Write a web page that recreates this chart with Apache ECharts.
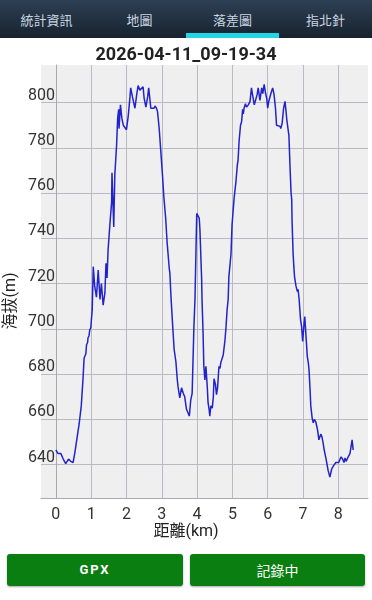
<!DOCTYPE html>
<html>
<head>
<meta charset="utf-8">
<script src="https://cdn.jsdelivr.net/npm/echarts@6/dist/echarts.min.js"></script>
<style>
html,body{margin:0;padding:0;background:#fff;width:372px;height:600px;overflow:hidden;font-family:Roboto,"Noto Sans CJK TC",sans-serif;}
#bar{position:absolute;left:0;top:0;width:372px;height:38px;background:linear-gradient(#2e4054,#17222e);}
.tab{position:absolute;top:0;width:93px;height:38px;line-height:40px;text-align:center;color:#c9d5e0;font-size:13px;font-family:"Noto Sans CJK TC",sans-serif;}
#ind{position:absolute;left:186px;top:33px;width:93px;height:5px;background:#22d6e6;}
#chart{position:absolute;left:0;top:38px;width:372px;height:510px;}
.btn{position:absolute;top:554px;height:32px;background:#0b7e12;border-radius:3px;color:#fff;text-align:center;line-height:32px;box-shadow:0 1px 2px rgba(0,0,0,0.35);}
</style>
</head>
<body>
<div id="bar">
  <div class="tab" style="left:0">統計資訊</div>
  <div class="tab" style="left:93px">地圖</div>
  <div class="tab" style="left:186px">落差圖</div>
  <div class="tab" style="left:279px">指北針</div>
  <div id="ind"></div>
</div>
<div id="chart"></div>
<div class="btn" style="left:7px;width:176px;font-weight:bold;font-size:13px;letter-spacing:2px;font-family:Roboto,sans-serif;">GPX</div>
<div class="btn" style="left:190px;width:175px;font-size:14px;font-family:'Noto Sans CJK TC',sans-serif;">記錄中</div>
<script>
const chartTitle = "2026-04-11_09-19-34";
const xName = "距離(km)";
const yName = "海拔(m)";
const xTicks = [0, 1, 2, 3, 4, 5, 6, 7, 8];
const yTicks = [640, 660, 680, 700, 720, 740, 760, 780, 800];
const distanceKm = [0.00,0.06,0.14,0.21,0.28,0.36,0.42,0.49,0.54,0.59,0.66,0.72,0.77,0.80,0.85,0.87,0.90,0.91,0.94,0.96,0.99,1.03,1.06,1.10,1.15,1.20,1.25,1.29,1.34,1.39,1.42,1.45,1.48,
1.53,1.58,1.59,1.64,1.67,1.72,1.75,1.78,1.79,1.83,1.87,1.91,1.95,2.00,2.05,2.10,2.12,2.17,2.24,2.29,2.33,2.38,2.43,2.47,2.50,2.55,2.60,2.63,2.69,2.74,2.78,2.81,2.85,2.88,2.93,2.97,3.02,3.06,3.11,3.15,3.21,
3.23,3.26,3.31,3.35,3.40,3.44,3.46,3.51,3.56,3.61,3.65,3.70,3.78,3.82,3.86,3.91,3.94,3.99,4.03,4.06,4.08,4.13,4.14,4.17,4.19,4.22,4.25,4.29,4.31,4.34,4.36,4.39,4.43,4.46,4.48,4.52,4.55,4.58,4.62,4.65,4.67,4.71,4.74,4.79,4.82,4.85,4.88,4.90,4.96,4.99,
5.05,5.10,5.14,5.16,5.19,5.23,5.26,5.29,5.31,5.33,5.37,5.40,5.45,5.50,5.54,5.57,5.62,5.67,5.70,5.73,5.78,5.83,5.86,5.90,5.94,5.97,6.00,6.03,6.09,6.14,6.18,6.22,6.25,6.30,6.35,6.37,6.41,6.45,6.49,6.52,6.54,6.56,6.60,6.63,6.66,6.68,6.69,6.72,6.74,6.76,6.80,6.84,6.86,6.89,6.93,6.96,6.99,
7.03,7.05,7.08,7.12,7.15,7.17,7.20,7.22,7.26,7.29,7.32,7.36,7.39,7.41,7.45,7.48,7.51,7.54,7.57,7.60,7.64,7.67,7.71,7.76,7.81,7.86,7.88,7.93,7.97,8.01,8.05,8.08,8.12,8.16,8.19,8.22,8.25,8.28,8.33,8.36,8.39,8.42];
const elevationM = [646.5,645,645,642.5,640.5,642.5,641.5,641,645.5,646,658,666,678,687,689,693,694,696,697,699.5,700.5,708.5,727.5,719,714,726,713,720,710.5,716,729,722.5,735,
746,756,769,745,768,781,793,797,788.5,799,793,790,789.5,788,794,802.5,806.5,802.5,797.5,803.5,807.5,805.5,805,807,802,798,802.5,806.5,797.5,798,797.5,798.5,797.5,796,788,779,768,758,749,738.5,727,
724.5,714.5,701,691,685.5,677.5,674.5,669.5,674,671.5,670,664.5,661.5,668.5,671.5,701,713,751,750.5,749,744,721.5,713,698,684,677.5,683.5,674,667.5,664.5,661.5,666,665,670,678,675.5,671,674,683.5,682.5,685,685,688.5,695,701,708.5,713,723,733,746,
758,765,772.5,774.5,783,790,791.5,797,795,797.5,799.5,798,799,800.5,806.5,803.5,799,799,803.5,806.5,801,806.5,804,808,804,802,797.5,800.5,804,806.5,803.5,797.5,790,789.5,789.5,788.5,791,797.5,800.5,796,792.5,793,785.5,772.5,760.5,757,747.5,733,727.5,723,719,716.5,717.5,713,704,701,694.5,
702.5,705.5,698,688,685,682,673,666,660.5,658.5,660,659,659.5,655.5,651,652.5,653.5,652,649.5,646.5,643.5,641,637.5,634.5,638,639.5,639,641,641.5,641,642.5,643.5,642.5,641,643,641.5,641,643.5,645,645.5,651,646.5];

const seriesData = distanceKm.map((d, i) => [d, elevationM[i]]);

const chart = echarts.init(document.getElementById('chart'), null, {renderer: 'canvas'});
const gridColor = '#b9b9c4';
chart.setOption({
  animation: false,
  title: {
    text: chartTitle, left: 'center', top: 3,
    textStyle: {fontSize: 18, fontWeight: 'bold', color: '#222', fontFamily: 'Roboto'}
  },
  grid: {left: 41, top: 27, right: 4, bottom: 50, show: true, backgroundColor: '#efefef', borderWidth: 0},
  xAxis: {
    type: 'value', min: -0.42, max: 8.84,
    axisLine: {show: true, onZero: false, lineStyle: {color: '#a8a8b0', width: 1}},
    axisTick: {show: false, customValues: xTicks},
    axisLabel: {customValues: xTicks, margin: 9, fontSize: 16, color: '#333', fontFamily: 'Roboto'},
    splitLine: {show: true, lineStyle: {color: gridColor, width: 1}}
  },
  yAxis: {
    type: 'value', min: 625.3, max: 816.6,
    axisLine: {show: true, lineStyle: {color: '#a8a8b0', width: 1}},
    axisTick: {show: false, customValues: yTicks},
    axisLabel: {customValues: yTicks, margin: -14, fontSize: 16, color: '#333', fontFamily: 'Roboto', verticalAlign: 'bottom', lineHeight: 14},
    splitLine: {show: true, lineStyle: {color: gridColor, width: 1}}
  },
  graphic: [
    {type: 'text', left: 'center', top: 486, style: {text: xName, fontSize: 16, fill: '#222', fontFamily: 'Roboto, "Noto Sans CJK TC"'}},
    {type: 'text', x: 11, y: 263, rotation: Math.PI / 2, style: {text: yName, fontSize: 16, fill: '#222', align: 'center', verticalAlign: 'middle', fontFamily: 'Roboto, "Noto Sans CJK TC"'}}
  ],
  series: [{
    type: 'line', data: seriesData, showSymbol: false, symbol: 'none',
    lineStyle: {color: '#2323cc', width: 1.5}, clip: true
  }]
});
</script>
</body>
</html>
